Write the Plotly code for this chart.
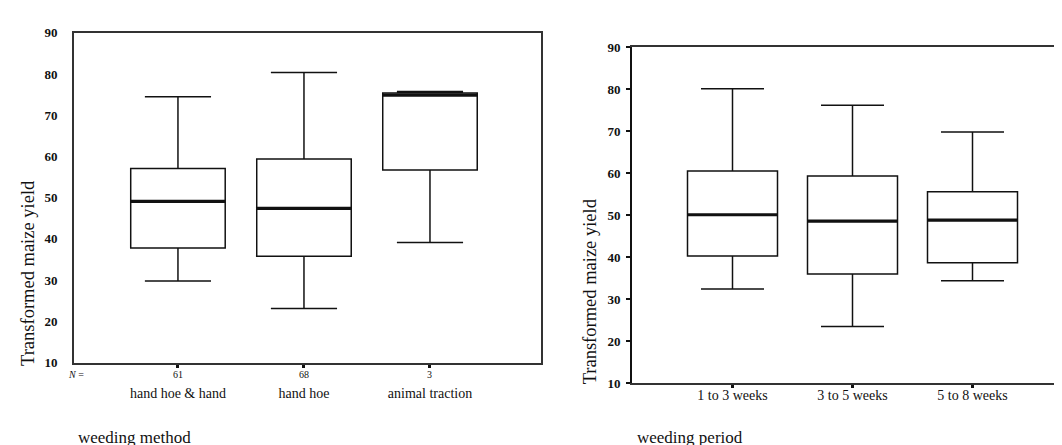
import plotly.graph_objects as go

# ---- data: weeding method (left panel) ----
method_cats = ["hand hoe & hand", "hand hoe", "animal traction"]
method_n = [61, 68, 3]
method_lower = [29.8, 23.1, 39.1]
method_q1 = [37.8, 35.8, 56.7]
method_median = [49.1, 47.4, 74.9]
method_q3 = [57.1, 59.4, 75.4]
method_upper = [74.5, 80.4, 75.8]

# ---- data: weeding period (right panel) ----
period_cats = ["1 to 3 weeks", "3 to 5 weeks", "5 to 8 weeks"]
period_lower = [32.4, 23.5, 34.4]
period_q1 = [40.3, 36.0, 38.7]
period_median = [50.1, 48.6, 48.8]
period_q3 = [60.5, 59.3, 55.6]
period_upper = [80.1, 76.2, 69.8]

y_ticks = [10, 20, 30, 40, 50, 60, 70, 80, 90]
y_title = "Transformed maize yield"

W, H = 1062, 445
FONT = "Liberation Serif"
INK = "#111111"

fig = go.Figure()


def add_panel(cats, lo, q1, med, q3, hi, xa, ya):
    pos = list(range(len(cats)))
    fig.add_trace(go.Box(
        x=pos, q1=q1, median=med, q3=q3, lowerfence=lo, upperfence=hi,
        width=0.75, whiskerwidth=0.7, fillcolor="white",
        line=dict(color=INK, width=1.5), boxpoints=False,
        xaxis=xa, yaxis=ya, showlegend=False, hoverinfo="skip"))
    # thick median bar
    fig.add_trace(go.Box(
        x=pos, q1=med, median=med, q3=med, lowerfence=med, upperfence=med,
        width=0.75, whiskerwidth=0, fillcolor="rgba(0,0,0,0)",
        line=dict(color=INK, width=3.2), boxpoints=False,
        xaxis=xa, yaxis=ya, showlegend=False, hoverinfo="skip"))


add_panel(method_cats, method_lower, method_q1, method_median, method_q3,
          method_upper, "x", "y")
add_panel(period_cats, period_lower, period_q1, period_median, period_q3,
          period_upper, "x2", "y2")

tickfont = dict(family=FONT, size=13, color=INK, weight="bold")
catfont = dict(family=FONT, size=14, color=INK)

fig.update_layout(
    width=W, height=H, margin=dict(l=0, r=0, t=0, b=0),
    paper_bgcolor="white", plot_bgcolor="white", showlegend=False,
    boxmode="overlay",
    xaxis=dict(domain=[66 / W, 533 / W], range=[-0.825, 2.881],
               tickvals=[0, 1, 2], ticktext=method_cats, tickfont=catfont,
               ticks="outside", ticklen=3, tickwidth=3, tickcolor=INK,
               ticklabelstandoff=13,
               showline=True, linecolor="#333", linewidth=1.6, mirror=True,
               showgrid=False, zeroline=False, anchor="y"),
    yaxis=dict(domain=[1 - 360.5 / H, 1 - 18.5 / H], range=[9.8, 90],
               tickvals=y_ticks, tickfont=tickfont, ticks="",
               ticklabelstandoff=12,
               showline=True, linecolor="#333", linewidth=1.6, mirror=True,
               showgrid=False, zeroline=False, anchor="x"),
    xaxis2=dict(domain=[624 / W, 1.0], range=[-0.8375, 2.8125],
                tickvals=[0, 1, 2], ticktext=period_cats, tickfont=catfont,
                ticks="outside", ticklen=3, tickwidth=3, tickcolor=INK,
                ticklabelstandoff=-5,
                showline=True, linecolor="#333", linewidth=1.6, mirror=True,
                showgrid=False, zeroline=False, anchor="y2"),
    yaxis2=dict(domain=[1 - 381 / H, 1 - 33.3 / H], range=[10, 90],
                tickvals=y_ticks, tickfont=tickfont,
                ticks="outside", ticklen=4, tickwidth=2, tickcolor=INK,
                ticklabelstandoff=3,
                showline=True, linecolor=INK, linewidth=2, mirror=False,
                showgrid=False, zeroline=False, anchor="x2"),
)

titlefont = dict(family=FONT, size=18.5, color=INK)
ann = [
    dict(text=y_title, xref="paper", yref="paper", x=20 / W, y=1 - 267 / H,
         textangle=-90, xanchor="center", yanchor="middle", showarrow=False,
         font=titlefont),
    dict(text=y_title, xref="paper", yref="paper", x=582 / W, y=1 - 286 / H,
         textangle=-90, xanchor="center", yanchor="middle", showarrow=False,
         font=titlefont),
    dict(text="weeding method", xref="paper", yref="paper", x=68 / W,
         y=1 - 437 / H, xanchor="left", yanchor="middle", showarrow=False,
         font=dict(family=FONT, size=17, color=INK)),
    dict(text="weeding period", xref="paper", yref="paper", x=627 / W,
         y=1 - 437 / H, xanchor="left", yanchor="middle", showarrow=False,
         font=dict(family=FONT, size=17, color=INK)),
    dict(text="<i>N</i> =", xref="paper", yref="paper", x=58 / W,
         y=1 - 372.5 / H, xanchor="left", yanchor="middle", showarrow=False,
         font=dict(family=FONT, size=10, color=INK)),
]
for i, n in enumerate(method_n):
    ann.append(dict(text=str(n), xref="x", yref="paper", x=i, y=1 - 372.5 / H,
                    xanchor="center", yanchor="middle", showarrow=False,
                    font=dict(family=FONT, size=10, color=INK)))
fig.update_layout(annotations=ann)

fig.write_html("out.html")
